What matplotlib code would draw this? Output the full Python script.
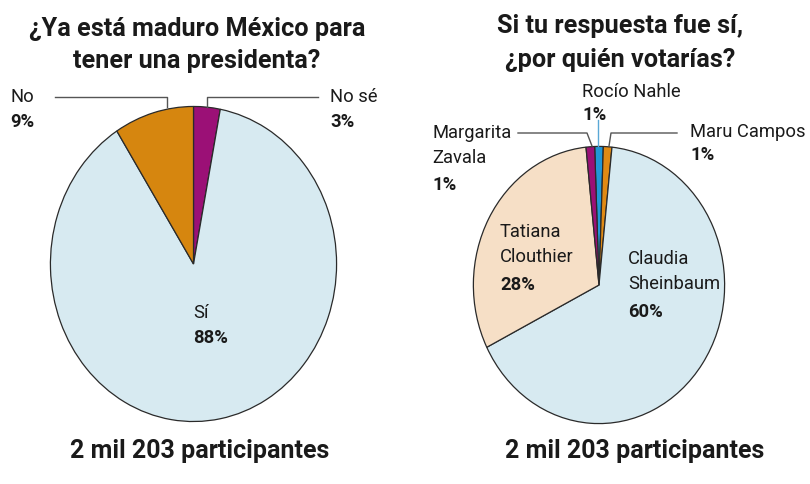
import matplotlib.pyplot as plt
import numpy as np

# encuesta 1
labels_1 = ["No sé", "Sí", "No"]
values_1 = [3, 88, 9]
colors_1 = ["#9b1076", "#d7eaf1", "#d6860f"]

# encuesta 2 (los valores no suman 100)
labels_2 = ["Rocío Nahle", "Maru Campos", "Claudia Sheinbaum", "Tatiana Clouthier", "Margarita Zavala"]
values_2 = [1, 1, 60, 28, 1]
colors_2 = ["#2196d6", "#e08a14", "#d7eaf1", "#f6dfc6", "#9b1076"]

title_1 = "¿Ya está maduro México para\ntener una presidenta?"
title_2 = "Si tu respuesta fue sí,\n¿por quién votarías?"
footer = "2 mil 203 participantes"

W, H = 810, 485
plt.rcParams["font.family"] = ["Roboto", "DejaVu Sans"]

fig = plt.figure(figsize=(W / 100, H / 100), dpi=100)
fig.patch.set_facecolor("white")


def pix(x, y):
    return x / W, 1 - y / H


def axes_px(x0, y0, x1, y1):
    return fig.add_axes([x0 / W, 1 - y1 / H, (x1 - x0) / W, (y1 - y0) / H])


def txt(x, y, s, **kw):
    fx, fy = pix(x, y)
    kw.setdefault("color", "#1a1a1a")
    fig.text(fx, fy, s, **kw)


def line(xs, ys, color="#555555"):
    fx = [x / W for x in xs]
    fy = [1 - y / H for y in ys]
    fig.add_artist(plt.Line2D(fx, fy, color=color, lw=1.0))


wp = dict(edgecolor="#2a2a2a", linewidth=0.9)

# ---- pie izquierdo
ax1 = axes_px(50, 107, 337, 423)
ax1.pie(values_1, colors=colors_1, startangle=90, counterclock=False,
        wedgeprops=wp)
ax1.set_aspect("auto")
ax1.set_xlim(-1.003, 1.003)
ax1.set_ylim(-1.003, 1.003)
ax1.axis("off")

# ---- pie derecho
ax2 = axes_px(473, 147, 725, 425)
start2 = 90 + 360 * values_2[0] / sum(values_2) / 2
ax2.pie(values_2, colors=colors_2, startangle=start2, counterclock=False,
        wedgeprops=wp)
ax2.set_aspect("auto")
ax2.set_xlim(-1.003, 1.003)
ax2.set_ylim(-1.003, 1.003)
ax2.axis("off")

# títulos
tfs = 18.2
txt(197, 29, title_1.split("\n")[0], fontsize=tfs, fontweight="bold", ha="center", va="center")
txt(197, 61, title_1.split("\n")[1], fontsize=tfs, fontweight="bold", ha="center", va="center")
txt(620, 26, title_2.split("\n")[0], fontsize=tfs, fontweight="bold", ha="center", va="center")
txt(620, 60, title_2.split("\n")[1], fontsize=tfs, fontweight="bold", ha="center", va="center")

# pie de cada gráfica
ffs = 18
txt(200, 451, footer, fontsize=ffs, fontweight="bold", ha="center", va="center")
txt(635, 451, footer, fontsize=ffs, fontweight="bold", ha="center", va="center")

lfs = 13.2
# etiquetas izquierda
txt(10, 97, "No", fontsize=lfs, va="center")
txt(10, 122, f"{values_1[2]}%", fontsize=lfs, fontweight="bold", va="center")
line([55, 167, 167], [98, 98, 108])
txt(330, 97, "No sé", fontsize=lfs, va="center")
txt(330, 122, f"{values_1[0]}%", fontsize=lfs, fontweight="bold", va="center")
line([207, 207, 318], [108, 98, 98])
txt(193, 313, "Sí", fontsize=lfs, va="center", ha="left")
txt(193, 338, f"{values_1[1]}%", fontsize=lfs, fontweight="bold", va="center", ha="left")

# etiquetas derecha
txt(582, 92, "Rocío Nahle", fontsize=lfs, va="center")
txt(582, 115, f"{values_2[0]}%", fontsize=lfs, fontweight="bold", va="center")
line([598, 598], [121, 147], color="#5aa8d6")
txt(432, 133, "Margarita", fontsize=lfs, va="center")
txt(432, 158, "Zavala", fontsize=lfs, va="center")
txt(432, 185, f"{values_2[4]}%", fontsize=lfs, fontweight="bold", va="center")
line([518, 587, 592], [134, 134, 147])
txt(690, 132, "Maru Campos", fontsize=lfs, va="center")
txt(690, 155, f"{values_2[1]}%", fontsize=lfs, fontweight="bold", va="center")
line([609, 611, 677], [147, 134, 134])
txt(500, 232, "Tatiana", fontsize=lfs, va="center")
txt(500, 257, "Clouthier", fontsize=lfs, va="center")
txt(500, 285, f"{values_2[3]}%", fontsize=lfs, fontweight="bold", va="center")
txt(628, 259, "Claudia", fontsize=lfs, va="center")
txt(628, 284, "Sheinbaum", fontsize=lfs, va="center")
txt(628, 312, f"{values_2[2]}%", fontsize=lfs, fontweight="bold", va="center")

fig.savefig("out.png", dpi=100)
